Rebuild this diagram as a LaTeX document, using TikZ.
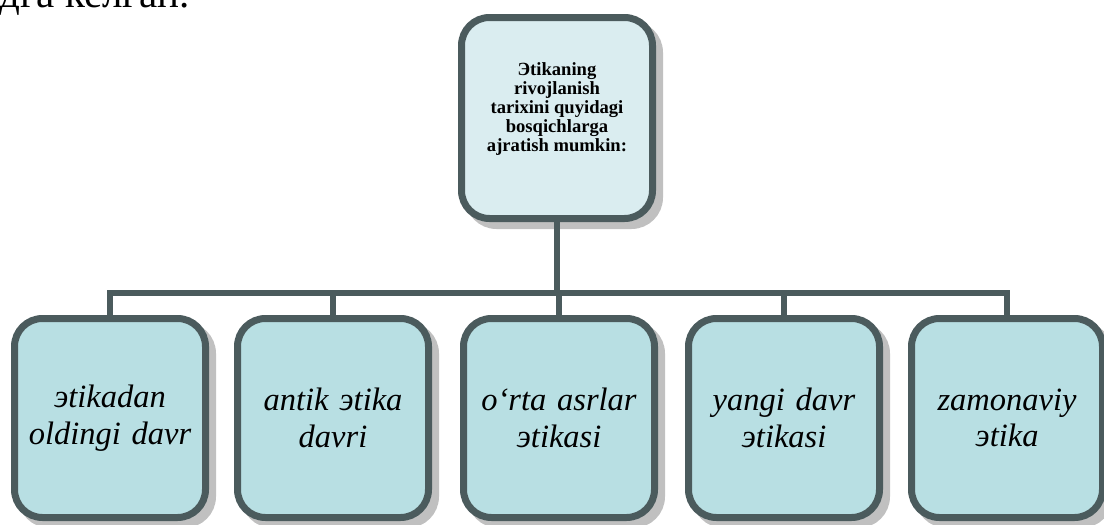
\documentclass[tikz,border=0pt]{standalone}
\usepackage{fontspec}
\setmainfont{Liberation Serif}
\usetikzlibrary{shadows}
\definecolor{bordc}{HTML}{4B5B5D}
\definecolor{fillbot}{HTML}{B8DFE3}
\definecolor{filltop}{HTML}{DAEDF0}
\definecolor{shadc}{HTML}{C0C0C0}
\tikzset{
  box/.style={rectangle, rounded corners=28pt, draw=bordc, line width=7pt,
    minimum width=191pt, minimum height=199pt, inner sep=0pt, align=center,
    drop shadow={shadow xshift=7pt, shadow yshift=-7pt, fill=shadc, draw=shadc, line width=7pt, opacity=1}},
  botbox/.style={box, fill=fillbot, text width=185pt,
    font=\itshape\fontsize{32.5}{36.5}\selectfont},
  topbox/.style={box, fill=filltop, minimum height=201pt},
  toptext/.style={align=center, inner sep=0pt, font=\bfseries\fontsize{18.6}{19}\selectfont},
  conn/.style={draw=bordc, line width=6pt}
}
\begin{document}
\begin{tikzpicture}[x=1pt,y=-1pt]
\useasboundingbox (0,0) rectangle (1104,525);
\clip (0,0) rectangle (1104,525);
\node[anchor=base west, inner sep=0pt, font=\fontsize{41}{44}\selectfont] (head) at (-1,7) {дга келган.};
\node[topbox] (top) at (557,118) {};
\node[toptext] (topt) at (557,109) {Эtikaning\\rivojlanish\\tarixini quyidagi\\bosqichlarga\\ajratish mumkin:};
\node[botbox] (b1) at (110,418) {эtikadan\\oldingi davr};
\node[botbox] (b2) at (333,418) {antik эtika\\davri};
\node[botbox] (b3) at (559,418) {o‘rta asrlar\\эtikasi};
\node[botbox] (b4) at (784,418) {yangi davr\\эtikasi};
\node[botbox] (b5) at (1007,418) {zamonaviy\\эtika};
\coordinate (bus) at (557,293);
\coordinate (busL) at (110,293);
\coordinate (busR) at (1007,293);
\draw[conn] (top.south) -- (bus);
\draw[conn, line cap=rect] (busL) -- (busR);
\foreach \b in {b1,b2,b3,b4,b5}{
  \draw[conn] (\b.north |- bus) -- (\b.north);
}
\end{tikzpicture}
\end{document}
